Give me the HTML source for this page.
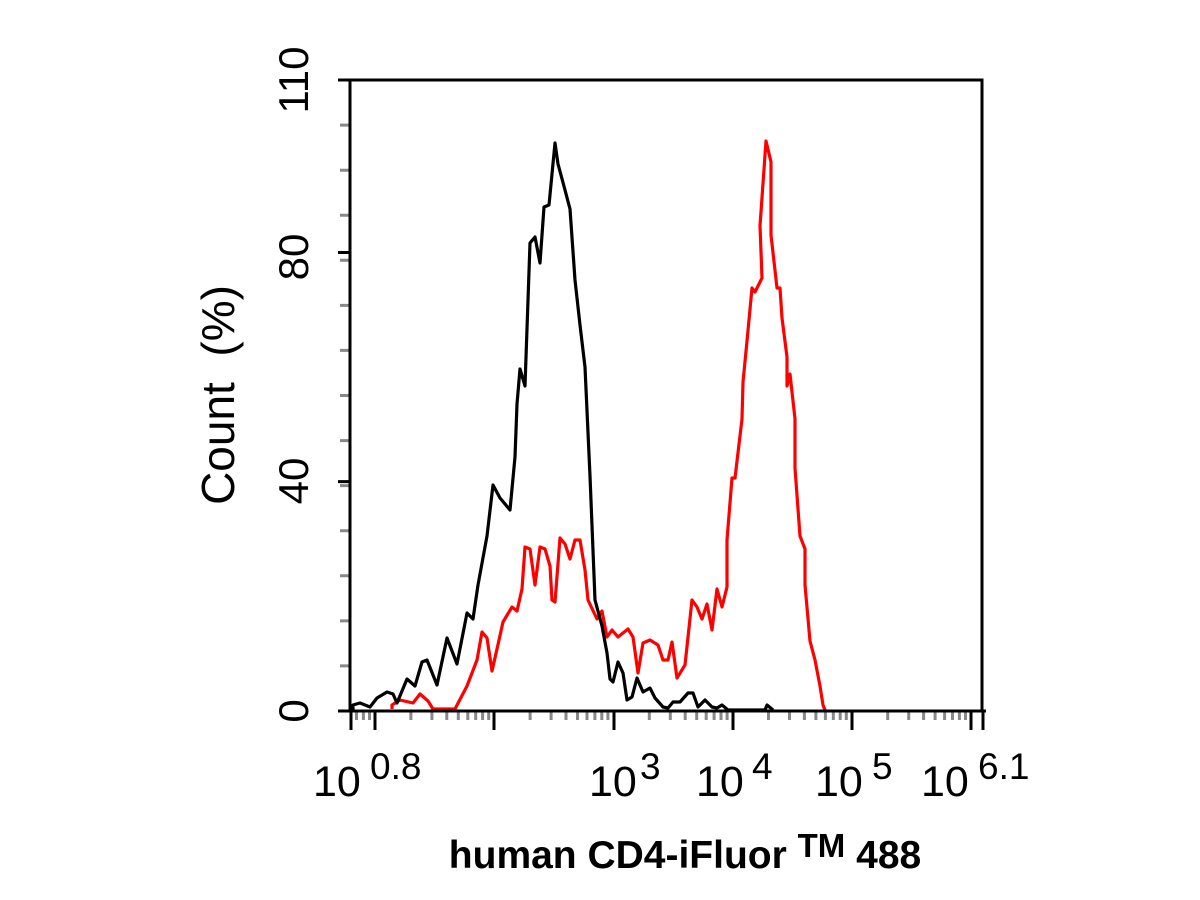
<!DOCTYPE html>
<html><head><meta charset="utf-8"><style>body{margin:0;background:#fff}svg{display:block}</style></head>
<body>
<svg width="1200" height="900" viewBox="0 0 1200 900" xmlns="http://www.w3.org/2000/svg" font-family="Liberation Sans, sans-serif">
<rect width="1200" height="900" fill="#fff"/>
<path stroke="#888" stroke-width="3" fill="none" d="M340 665.9H350M340 620.9H350M340 575.8H350M340 530.7H350M340 485.6H350M340 440.6H350M340 395.5H350M340 350.4H350M340 305.4H350M340 260.3H350M340 215.2H350M340 170.2H350M340 125.1H350"/>
<path stroke="#888" stroke-width="3" fill="none" d="M356.5 711V720M363.4 711V720M369.5 711V720M410.9 711V720M431.9 711V720M446.8 711V720M458.3 711V720M467.8 711V720M475.7 711V720M482.6 711V720M488.7 711V720M530.1 711V720M551.1 711V720M566 711V720M577.5 711V720M587 711V720M594.9 711V720M601.8 711V720M607.9 711V720M649.3 711V720M670.3 711V720M685.2 711V720M696.7 711V720M706.2 711V720M714.1 711V720M721 711V720M727.1 711V720M768.5 711V720M789.5 711V720M804.4 711V720M815.9 711V720M825.4 711V720M833.3 711V720M840.2 711V720M846.3 711V720M887.7 711V720M908.7 711V720M923.6 711V720M935.1 711V720M944.6 711V720M952.5 711V720M959.4 711V720M965.5 711V720"/>
<path stroke="#000" stroke-width="3" fill="none" d="M338 711H350M338 481.6H350M338 252.5H350M338 80H350M351 711V730M375 711V730M494 711V730M614 711V730M733 711V730M852 711V730M971 711V730M983 711V730"/>
<polyline fill="none" stroke="#ff0000" stroke-width="3.2" stroke-linejoin="round" points="392,709 392,705 400,700 413,703 420,694 428,701 433,709 455,709 467,686 477,660 482,632 487,638 492,671 497,649 503,622 512,607 517,611 522,589 525,547 530,549 535,585 540,547 545,549 550,566 552,600 555,602 560,538 565,544 570,559 575,540 580,540 585,570 588,600 597,619 602,611 607,637 612,630 618,637 623,633 628,629 633,637 638,673 643,643 650,640 658,645 663,660 668,660 672,642 677,678 685,665 692,600 697,607 702,619 707,604 712,630 717,589 722,607 727,587 727,540 732,478 735,478 742,419 743,382 747,341 752,288 755,292 762,278 760,226 766,141 771,162 771,235 777,288 780,288 782,318 787,357 787,386 790,374 795,419 795,468 800,536 805,549 805,585 810,641 815,660 820,686 823,705 825,710"/>
<polyline fill="none" stroke="#000" stroke-width="3.2" stroke-linejoin="round" points="353,710 353,705 360,703 370,707 377,698 387,692 393,694 397,703 407,679 415,686 422,662 427,660 437,685 447,638 457,664 467,613 473,619 478,585 487,536 493,485 500,498 510,510 515,457 517,404 520,369 525,386 530,243 535,237 540,263 544,207 549,205 555,143 558,164 565,190 570,209 575,280 580,325 585,367 590,476 595,600 602,626 607,653 610,679 613,682 618,662 623,673 627,700 632,697 637,678 643,692 650,688 655,698 663,707 668,708 673,702 680,702 688,693 693,693 698,707 705,700 712,707 717,708 722,705 728,710 765,710 767,705 773,710"/>
<rect x="350" y="80" width="632" height="631" fill="none" stroke="#000" stroke-width="3"/>
<line x1="345" y1="711" x2="986" y2="711" stroke="#000" stroke-width="3"/>
<g font-size="42" fill="#000">
<text transform="translate(308,711) rotate(-90)" text-anchor="middle">0</text>
<text transform="translate(308,481) rotate(-90)" text-anchor="middle">40</text>
<text transform="translate(308,257) rotate(-90)" text-anchor="middle">80</text>
<text transform="translate(308,80) rotate(-90)" text-anchor="middle">110</text>
<text transform="translate(234,395) rotate(-90)" text-anchor="middle" font-size="46" xml:space="preserve">Count  (%)</text>
</g>
<g font-size="43" fill="#000">
<text x="313" y="796">10</text><text x="370" y="779" font-size="37">0.8</text>
<text x="589" y="796">10</text><text x="640" y="779" font-size="37">3</text>
<text x="696" y="796">10</text><text x="752" y="779" font-size="37">4</text>
<text x="815" y="796">10</text><text x="872" y="779" font-size="37">5</text>
<text x="921" y="796">10</text><text x="978" y="779" font-size="37">6.1</text>
</g>
<text x="685" y="868" text-anchor="middle" font-size="39" font-weight="bold">human CD4-iFluor <tspan dy="-11" font-size="33">TM</tspan><tspan dy="11"> 488</tspan></text>
</svg>
</body></html>
